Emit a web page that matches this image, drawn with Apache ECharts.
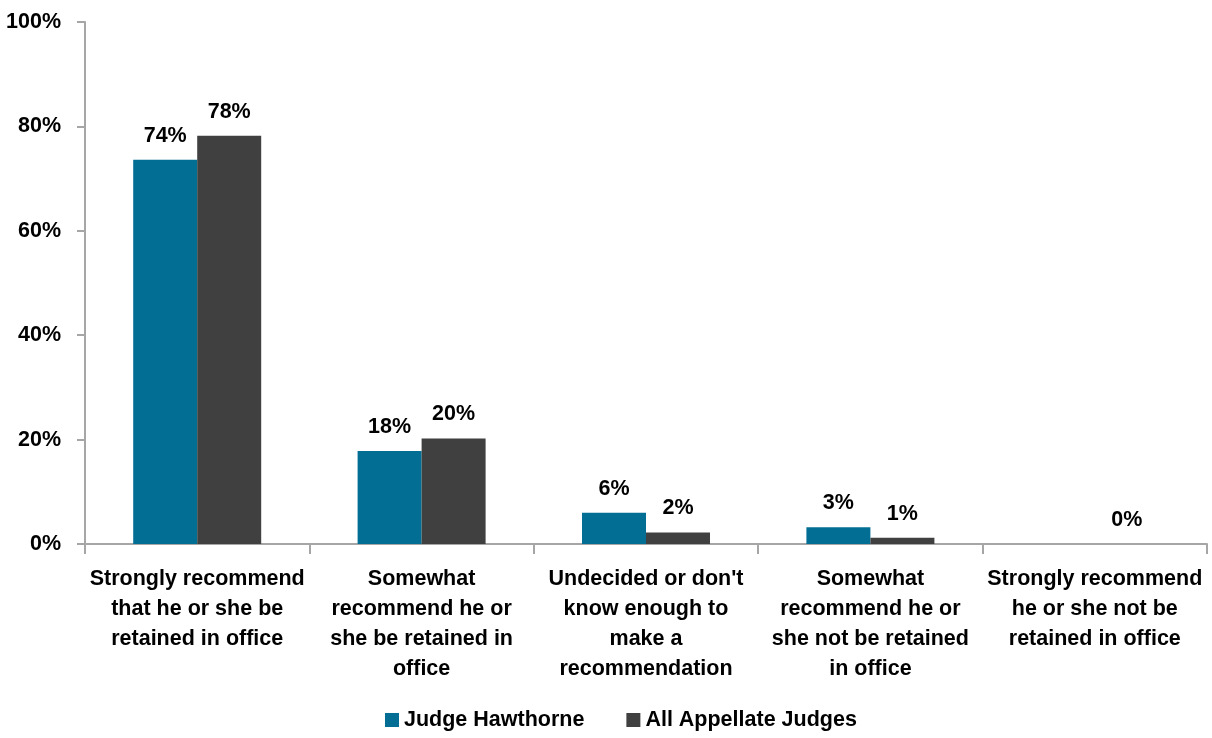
<!DOCTYPE html>
<html><head><meta charset="utf-8">
<script src="https://cdn.jsdelivr.net/npm/echarts@6/dist/echarts.min.js"></script>
<style>html,body{margin:0;padding:0;background:#fff}#c{width:1212px;height:738px}</style>
</head><body><div id="c"></div>
<script>
const categories = [
  "Strongly recommend\nthat he or she be\nretained in office",
  "Somewhat\nrecommend he or\nshe be retained in\noffice",
  "Undecided or don't\nknow enough to\nmake a\nrecommendation",
  "Somewhat\nrecommend he or\nshe not be retained\nin office",
  "Strongly recommend\nhe or she not be\nretained in office"
];
const seriesNames = ["Judge Hawthorne", "All Appellate Judges"];
const hawthorne = [73.6, 17.8, 6.0, 3.2, null];
const allJudges = [78.2, 20.2, 2.2, 1.2, 0];
const yTicks = [0, 20, 40, 60, 80, 100];

const FONT = '"Liberation Sans", Arial, sans-serif';
const FS = 21.5;
const chart = echarts.init(document.getElementById('c'));
const lbl = {
  show: true, position: 'top', distance: 13,
  fontFamily: FONT, fontWeight: 'bold', fontSize: FS, color: '#000',
  formatter: p => (p.value == null ? '' : Math.round(p.value) + '%')
};
chart.setOption({
  animation: false,
  grid: { left: 85, right: 5, top: 22, bottom: 194, containLabel: false },
  legend: {
    bottom: 2, left: 380, itemWidth: 14, itemHeight: 14, itemGap: 42,
    icon: 'rect',
    textStyle: { fontFamily: FONT, fontWeight: 'bold', fontSize: FS, color: '#000' },
    data: seriesNames
  },
  xAxis: {
    type: 'category', data: categories,
    axisLine: { lineStyle: { color: '#A6A6A6', width: 2 } },
    axisTick: { show: true, length: 10, lineStyle: { color: '#A6A6A6', width: 2 } },
    axisLabel: {
      interval: 0, margin: 20, lineHeight: 30,
      fontFamily: FONT, fontWeight: 'bold', fontSize: FS, color: '#000'
    }
  },
  yAxis: {
    type: 'value', min: 0, max: 100, interval: 20,
    axisLine: { show: true, lineStyle: { color: '#A6A6A6', width: 2 } },
    axisTick: { show: true, length: 8, lineStyle: { color: '#A6A6A6', width: 2 } },
    splitLine: { show: false },
    axisLabel: {
      margin: 24, fontFamily: FONT, fontWeight: 'bold', fontSize: FS, color: '#000',
      formatter: v => (yTicks.includes(v) ? v + '%' : '')
    }
  },
  series: [
    { name: seriesNames[0], type: 'bar', data: hawthorne, barWidth: 64, barGap: '0%',
      itemStyle: { color: '#036E94' }, label: lbl },
    { name: seriesNames[1], type: 'bar', data: allJudges, barWidth: 64, barGap: '0%',
      itemStyle: { color: '#404040' }, label: lbl }
  ]
});
</script></body></html>
